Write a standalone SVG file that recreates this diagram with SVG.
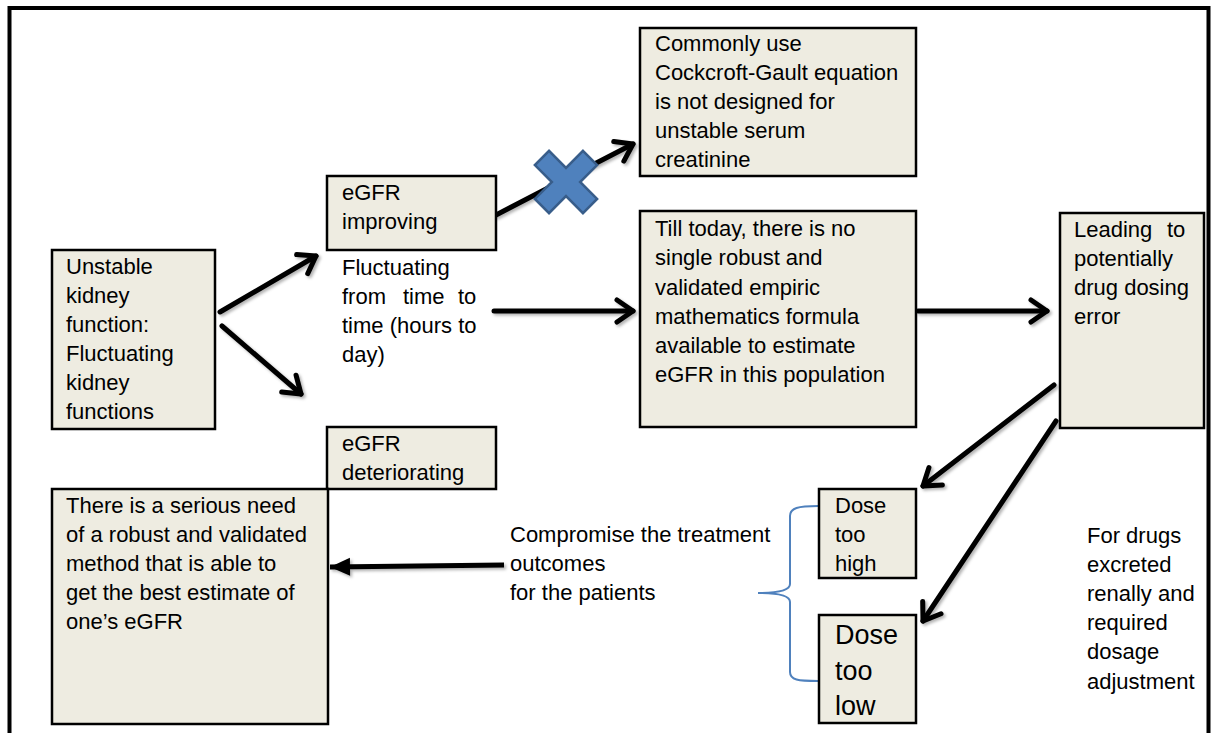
<svg xmlns="http://www.w3.org/2000/svg" width="1216" height="733" viewBox="0 0 1216 733">
<style>
.box{fill:#EEECE1;stroke:#000;stroke-width:2.5}
.t{font-family:"Liberation Sans",Arial,sans-serif;font-size:22px;fill:#000}
.big{font-size:27px}
.arr{fill:none;stroke:#000;stroke-width:5;stroke-linecap:round;marker-end:url(#chev)}
</style>
<defs>
<filter id="sh" filterUnits="userSpaceOnUse" x="0" y="0" width="1216" height="733">
<feDropShadow dx="2" dy="2" stdDeviation="1.5" flood-color="#000" flood-opacity="0.3"/>
</filter>
<marker id="chev" markerUnits="userSpaceOnUse" viewBox="0 0 30 30" markerWidth="30" markerHeight="30" refX="24" refY="15" orient="auto">
<path d="M8,4 L24,15 L8,26" fill="none" stroke="#000" stroke-width="5" stroke-linecap="round" stroke-linejoin="round"/>
</marker>
<marker id="tri" markerUnits="userSpaceOnUse" viewBox="0 0 30 30" markerWidth="30" markerHeight="30" refX="26" refY="15" orient="auto">
<path d="M6,6 L26,15 L6,24 Z" fill="#000"/>
</marker>
</defs>
<rect width="1216" height="733" fill="#fff"/>
<path d="M9.5,745 V8 H1208.5 V745" fill="none" stroke="#000" stroke-width="4"/>

<g id="connectors" filter="url(#sh)">
<path class="arr" d="M220,312 L316,256"/>
<path class="arr" d="M222,326 L301,394"/>
<path class="arr" d="M496,215 L633,144"/>
<path class="arr" d="M494,311 L633,311"/>
<path class="arr" d="M918,311 L1047,311"/>
<path class="arr" d="M1054,385 L923,486"/>
<path class="arr" d="M1056,421 L923,621"/>
<path d="M504,565 L330,567" fill="none" stroke="#000" stroke-width="5" marker-end="url(#tri)"/>
</g>
<path id="brace" d="M818,506 C798,506 790,508 790,516 L790,584 C790,590 780,593 758,593 C780,593 790,596 790,602 L790,672 C790,680 798,681 818,681" fill="none" stroke="#4F81BD" stroke-width="2"/>

<g id="cross">
<polygon transform="translate(566,182) rotate(45)" points="-10,-34 10,-34 10,-10 34,-10 34,10 10,10 10,34 -10,34 -10,10 -34,10 -34,-10 -10,-10" fill="#4F81BD" stroke="#385D8A" stroke-width="2.5" stroke-linejoin="miter"/>
</g>

<g id="n-unstable">
<rect class="box" x="52" y="250" width="163" height="179"/>
<text class="t" x="66" y="274">Unstable</text>
<text class="t" x="66" y="303">kidney</text>
<text class="t" x="66" y="332">function:</text>
<text class="t" x="66" y="361">Fluctuating</text>
<text class="t" x="66" y="390">kidney</text>
<text class="t" x="66" y="419">functions</text>
</g>

<g id="n-improving">
<rect class="box" x="327" y="176" width="169" height="74"/>
<text class="t" x="342" y="200">eGFR</text>
<text class="t" x="342" y="229">improving</text>
</g>

<g id="n-fluctuating">
<text class="t" x="342" y="275">Fluctuating</text>
<text class="t" y="304"><tspan x="342">from</tspan><tspan x="403">time</tspan><tspan x="458">to</tspan></text>
<text class="t" x="342" y="333">time (hours to</text>
<text class="t" x="342" y="362">day)</text>
</g>

<g id="n-cockcroft">
<rect class="box" x="640" y="28" width="276" height="148"/>
<text class="t" x="655" y="51">Commonly use</text>
<text class="t" x="655" y="80">Cockcroft-Gault equation</text>
<text class="t" x="655" y="109">is not designed for</text>
<text class="t" x="655" y="138">unstable serum</text>
<text class="t" x="655" y="167">creatinine</text>
</g>

<g id="n-tilltoday">
<rect class="box" x="640" y="211" width="276" height="216"/>
<text class="t" x="655" y="236">Till today, there is no</text>
<text class="t" x="655" y="265">single robust and</text>
<text class="t" x="655" y="295">validated empiric</text>
<text class="t" x="655" y="324">mathematics formula</text>
<text class="t" x="655" y="353">available to estimate</text>
<text class="t" x="655" y="382">eGFR in this population</text>
</g>

<g id="n-leading">
<rect class="box" x="1060" y="213" width="144" height="215"/>
<text class="t" y="237"><tspan x="1074">Leading</tspan><tspan x="1167">to</tspan></text>
<text class="t" x="1074" y="266">potentially</text>
<text class="t" x="1074" y="295">drug dosing</text>
<text class="t" x="1074" y="324">error</text>
</g>

<g id="n-deteriorating">
<rect class="box" x="327" y="427" width="169" height="62"/>
<text class="t" x="342" y="451">eGFR</text>
<text class="t" x="342" y="480">deteriorating</text>
</g>

<g id="n-need">
<rect class="box" x="52" y="489" width="276" height="235"/>
<text class="t" x="66" y="513">There is a serious need</text>
<text class="t" x="66" y="542">of a robust and validated</text>
<text class="t" x="66" y="571">method that is able to</text>
<text class="t" x="66" y="600">get the best estimate of</text>
<text class="t" x="66" y="629">one’s eGFR</text>
</g>

<g id="n-compromise">
<text class="t" x="510" y="542">Compromise the treatment</text>
<text class="t" x="510" y="571">outcomes</text>
<text class="t" x="510" y="600">for the patients</text>
</g>

<g id="n-high">
<rect class="box" x="819" y="489" width="97" height="89"/>
<text class="t" x="835" y="513">Dose</text>
<text class="t" x="835" y="542">too</text>
<text class="t" x="835" y="571">high</text>
</g>

<g id="n-low">
<rect class="box" x="819" y="615" width="97" height="108"/>
<text class="t big" x="835" y="644">Dose</text>
<text class="t big" x="835" y="680">too</text>
<text class="t big" x="835" y="715">low</text>
</g>

<g id="n-fordrugs">
<text class="t" x="1087" y="543">For drugs</text>
<text class="t" x="1087" y="572">excreted</text>
<text class="t" x="1087" y="601">renally and</text>
<text class="t" x="1087" y="630">required</text>
<text class="t" x="1087" y="659">dosage</text>
<text class="t" x="1087" y="689">adjustment</text>
</g>
</svg>
